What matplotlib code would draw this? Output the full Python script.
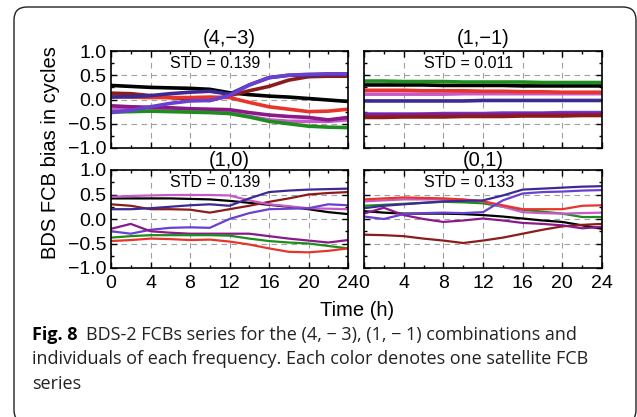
import numpy as np
import matplotlib
matplotlib.use('Agg')
import matplotlib.pyplot as plt
from matplotlib.patches import FancyBboxPatch
from matplotlib.ticker import MultipleLocator

# hours sampled every 2 h
hours = [0, 2, 4, 6, 8, 10, 12, 14, 16, 18, 20, 22, 24]

colors = {
    'black': '#000000',
    'red': '#e8352b',
    'green': '#1e8c1e',
    'maroon': '#8b1c1c',
    'purple': '#8a1a8a',
    'orchid': '#c85ac8',
    'indigo': '#3b2a96',
    'violet': '#6a40d0',
}

# (4,-3)
p43_black = [0.29, 0.27, 0.25, 0.24, 0.23, 0.21, 0.14, 0.10, 0.07, 0.05, 0.02, -0.01, -0.04]
p43_red = [0.06, 0.05, 0.04, 0.04, 0.04, 0.05, 0.04, -0.06, -0.15, -0.20, -0.25, -0.24, -0.20]
p43_green = [-0.26, -0.25, -0.24, -0.25, -0.26, -0.27, -0.29, -0.36, -0.45, -0.50, -0.55, -0.57, -0.58]
p43_maroon = [0.13, 0.12, 0.08, 0.04, 0.01, -0.02, 0.08, 0.18, 0.27, 0.40, 0.47, 0.48, 0.48]
p43_purple = [-0.13, -0.15, -0.16, -0.17, -0.19, -0.20, -0.21, -0.27, -0.32, -0.35, -0.37, -0.42, -0.37]
p43_orchid = [-0.20, -0.20, -0.20, -0.22, -0.24, -0.25, -0.27, -0.35, -0.42, -0.45, -0.45, -0.45, -0.42]
p43_indigo = [0.05, 0.06, 0.08, 0.12, 0.15, 0.17, 0.11, 0.30, 0.45, 0.50, 0.50, 0.52, 0.52]
p43_violet = [-0.27, -0.22, -0.15, -0.08, -0.03, -0.02, 0.08, 0.30, 0.45, 0.50, 0.52, 0.53, 0.53]

# (1,-1)
p11_black = [0.30, 0.30, 0.30, 0.30, 0.29, 0.29, 0.29, 0.29, 0.28, 0.28, 0.28, 0.28, 0.28]
p11_red = [0.19, 0.19, 0.19, 0.18, 0.18, 0.18, 0.17, 0.17, 0.16, 0.16, 0.15, 0.15, 0.15]
p11_green = [0.38, 0.38, 0.37, 0.37, 0.37, 0.36, 0.36, 0.36, 0.36, 0.35, 0.35, 0.35, 0.35]
p11_maroon = [-0.37, -0.37, -0.36, -0.36, -0.36, -0.35, -0.35, -0.35, -0.34, -0.34, -0.34, -0.33, -0.33]
p11_purple = [-0.32, -0.32, -0.32, -0.31, -0.31, -0.31, -0.31, -0.31, -0.30, -0.30, -0.30, -0.30, -0.30]
p11_orchid = [0.11, 0.11, 0.11, 0.11, 0.11, 0.12, 0.12, 0.12, 0.12, 0.12, 0.12, 0.12, 0.12]
p11_indigo = [-0.03, -0.03, -0.03, -0.03, -0.03, -0.03, -0.02, -0.02, -0.02, -0.02, -0.02, -0.02, -0.02]
p11_violet = [-0.30, -0.30, -0.30, -0.30, -0.29, -0.29, -0.29, -0.28, -0.28, -0.28, -0.27, -0.27, -0.27]

# (1,0)
p10_black = [0.42, 0.42, 0.42, 0.42, 0.41, 0.40, 0.37, 0.33, 0.29, 0.25, 0.20, 0.14, 0.10]
p10_red = [-0.45, -0.43, -0.40, -0.41, -0.43, -0.42, -0.46, -0.52, -0.60, -0.67, -0.68, -0.65, -0.60]
p10_green = [-0.38, -0.35, -0.33, -0.33, -0.33, -0.33, -0.34, -0.40, -0.45, -0.48, -0.50, -0.55, -0.60]
p10_maroon = [0.30, 0.27, 0.20, 0.20, 0.19, 0.13, 0.20, 0.27, 0.35, 0.42, 0.50, 0.53, 0.55]
p10_purple = [-0.20, -0.10, -0.25, -0.28, -0.30, -0.30, -0.30, -0.30, -0.35, -0.40, -0.44, -0.48, -0.43]
p10_orchid = [0.45, 0.47, 0.48, 0.49, 0.49, 0.49, 0.48, 0.38, 0.30, 0.26, 0.22, 0.21, 0.20]
p10_indigo = [0.20, 0.20, 0.22, 0.25, 0.28, 0.30, 0.27, 0.42, 0.55, 0.58, 0.60, 0.61, 0.62]
p10_violet = [-0.25, -0.30, -0.22, -0.18, -0.17, -0.18, 0.00, 0.12, 0.20, 0.21, 0.22, 0.30, 0.28]

# (0,1)
p01_black = [0.16, 0.13, 0.11, 0.11, 0.11, 0.10, 0.08, 0.05, 0.01, -0.03, -0.06, -0.13, -0.20]
p01_red = [0.40, 0.42, 0.44, 0.43, 0.42, 0.40, 0.36, 0.28, 0.20, 0.20, 0.20, 0.27, 0.28]
p01_green = [0.27, 0.29, 0.31, 0.33, 0.35, 0.34, 0.32, 0.25, 0.19, 0.15, 0.11, 0.04, 0.04]
p01_maroon = [-0.32, -0.33, -0.35, -0.40, -0.44, -0.49, -0.44, -0.38, -0.30, -0.22, -0.15, -0.12, -0.10]
p01_purple = [0.11, 0.23, 0.08, 0.00, -0.06, -0.03, 0.01, -0.03, -0.08, -0.10, -0.13, -0.19, -0.16]
p01_orchid = [0.36, 0.38, 0.40, 0.40, 0.40, 0.39, 0.36, 0.25, 0.14, 0.12, 0.11, 0.12, 0.13]
p01_indigo = [0.22, 0.27, 0.30, 0.33, 0.36, 0.37, 0.38, 0.48, 0.60, 0.62, 0.64, 0.66, 0.67]
p01_violet = [0.05, 0.00, 0.10, 0.12, 0.13, 0.12, 0.14, 0.38, 0.52, 0.55, 0.56, 0.58, 0.59]

panels = [
    ('(4,\u22123)', 'STD = 0.139', {'black': p43_black, 'maroon': p43_maroon, 'red': p43_red, 'orchid': p43_orchid,
                                     'purple': p43_purple, 'green': p43_green, 'indigo': p43_indigo, 'violet': p43_violet}),
    ('(1,\u22121)', 'STD = 0.011', {'violet': p11_violet, 'indigo': p11_indigo, 'orchid': p11_orchid, 'red': p11_red,
                                     'black': p11_black, 'green': p11_green, 'purple': p11_purple, 'maroon': p11_maroon}),
    ('(1,0)', 'STD = 0.139', {'black': p10_black, 'maroon': p10_maroon, 'orchid': p10_orchid, 'indigo': p10_indigo,
                               'violet': p10_violet, 'purple': p10_purple, 'green': p10_green, 'red': p10_red}),
    ('(0,1)', 'STD = 0.133', {'black': p01_black, 'maroon': p01_maroon, 'purple': p01_purple, 'green': p01_green,
                               'orchid': p01_orchid, 'red': p01_red, 'indigo': p01_indigo, 'violet': p01_violet}),
]

plt.rcParams['font.family'] = ['Liberation Sans', 'DejaVu Sans']

W, H = 637, 417
fig = plt.figure(figsize=(W / 100, H / 100), dpi=100)

# rounded frame around the whole figure
frame = FancyBboxPatch((0.14, -0.06), 6.22, 4.16, boxstyle='round,pad=0,rounding_size=0.13',
                       transform=fig.dpi_scale_trans, fc='none', ec='#222222', lw=1.0)
fig.patches.append(frame)

# axes boxes in pixels (left, top, right, bottom)
boxes = [(111, 51, 348, 148), (364, 51, 602, 148), (111, 170, 348, 268), (364, 170, 602, 268)]

for i, ((title, std, series), (l, t, r, b)) in enumerate(zip(panels, boxes)):
    ax = fig.add_axes([l / W, 1 - b / H, (r - l) / W, (b - t) / H])
    lw = 2.6 if i < 2 else 1.6
    for name, vals in series.items():
        ax.plot(hours, vals, color=colors[name], lw=lw, solid_capstyle='butt')
    ax.set_xlim(0, 24)
    ax.set_ylim(-1, 1)
    ax.xaxis.set_major_locator(MultipleLocator(4))
    ax.xaxis.set_minor_locator(MultipleLocator(2))
    ax.yaxis.set_major_locator(MultipleLocator(0.5))
    ax.yaxis.set_minor_locator(MultipleLocator(0.25))
    ax.tick_params(which='both', direction='in', top=True, right=True, labelsize=14, pad=3)
    ax.tick_params(axis='x', pad=5)
    ax.tick_params(which='major', length=4, width=1)
    ax.tick_params(which='minor', length=2.5, width=1)
    ax.grid(True, which='major', color='#a0a0a0', ls=(0, (5, 4)), lw=0.8)
    ax.set_axisbelow(True)
    for s in ax.spines.values():
        s.set_linewidth(1.2)
    if i % 2 == 1:
        ax.set_yticklabels([])
    if i < 2:
        ax.set_xticklabels([])
    ax.set_title(title, fontsize=14.5, pad=5 if i < 2 else 2)
    ax.text(0.44, 0.875, std, transform=ax.transAxes, ha='center', va='center', fontsize=11.5,
            bbox=dict(fc='white', ec='none', pad=0.5), zorder=5)

fig.text(51 / W, 1 - 153 / H, 'BDS FCB bias in cycles', rotation=90, ha='center', va='center', fontsize=14.5)
fig.text(357 / W, 1 - 310 / H, 'Time (h)', ha='center', va='center', fontsize=14.5)

# caption with bold figure label
cap_font = ['Open Sans', 'DejaVu Sans']
cap_size = 13.0
fig.canvas.draw()
renderer = fig.canvas.get_renderer()
x0 = 32 / W
lab = fig.text(x0, 1 - 340 / H, 'Fig. 8', fontsize=cap_size, fontweight='bold', family=cap_font, va='baseline')
ext = lab.get_window_extent(renderer)
fig.text(ext.x1 / W + 9 / W, 1 - 340 / H,
         'BDS-2 FCBs series for the (4, \u2212 3), (1, \u2212 1) combinations and',
         fontsize=cap_size, family=cap_font, va='baseline', color='#222222')
fig.text(x0, 1 - 364 / H, 'individuals of each frequency. Each color denotes one satellite FCB',
         fontsize=cap_size, family=cap_font, va='baseline', color='#222222')
fig.text(x0, 1 - 389 / H, 'series', fontsize=cap_size, family=cap_font, va='baseline', color='#222222')

fig.savefig('out.png', dpi=100)
